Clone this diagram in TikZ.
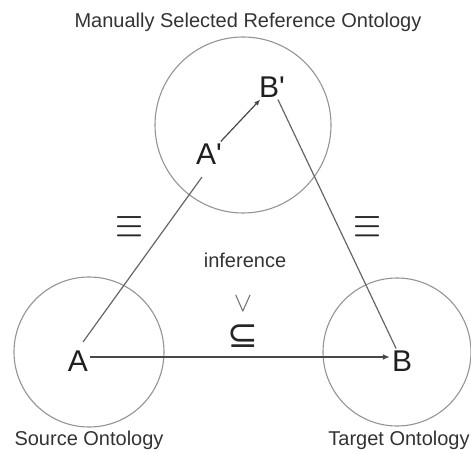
\documentclass[tikz,border=0pt]{standalone}
\usepackage{fontspec}
\setmainfont{Liberation Sans}[Ligatures=TeXOff]
\newfontfamily\symfont{DejaVu Sans}
\usetikzlibrary{arrows.meta,calc}
\begin{document}
\begin{tikzpicture}[x=1pt,y=-1pt,
  ring/.style={draw=black!42, line width=1.1pt},
  lab/.style={font=\fontsize{30}{36}\selectfont, inner sep=2pt, text=black!88},
  capt/.style={font=\fontsize{20}{24}\selectfont, inner sep=0pt, text=black!80},
  sym/.style={font=\Huge, inner sep=0pt, text=black!85, transform shape},
  link/.style={draw=black!60, line width=1.2pt},
  arrAB/.style={draw=black!72, line width=1.7pt, -{Latex[length=7pt,width=6pt]}},
  arrP/.style={draw=black!72, line width=1.2pt, -{Latex[length=6pt,width=5pt]}}]
\useasboundingbox (0,0) rectangle (471,454);
% circles
\draw[ring] (243,125) circle (88);
\draw[ring] (89,352) circle (75);
\draw[ring] (397,352) circle (74);
% labels
\node[capt] (title) at (248,22) {Manually Selected Reference Ontology};
\node[capt] (src) at (89,440) {Source Ontology};
\node[capt] (tgt) at (399,440) {Target Ontology};
\node[lab] (A) at (78,361) {A};
\node[lab] (B) at (402,361) {B};
\node[lab] (Ap) at (209,154) {A'};
\node[lab] (Bp) at (272,87) {B'};
% symbols
\node[sym, xscale=1.45, yscale=1.9] (eqL) at (130,228) {$\equiv$};
\node[sym, xscale=1.45, yscale=1.9] (eqR) at (368,228) {$\equiv$};
\node[capt] (inf) at (245,260) {inference};
\node[sym, scale=1.1, text=black!60] (vee) at (243,304) {$\vee$};
\node[sym, font=\symfont\fontsize{37}{40}\selectfont] (sub) at (243,336) {⊆};
% connectors
\draw[arrAB] ([yshift=4pt]A.east) -- ([yshift=4pt]B.west);
\draw[link] ($(A.center)+(5,-19)$) -- ($(Ap.center)+(-7,23)$);
\draw[link] (Bp) -- (B);
\draw[arrP] (Ap) -- (Bp);
\end{tikzpicture}
\end{document}
